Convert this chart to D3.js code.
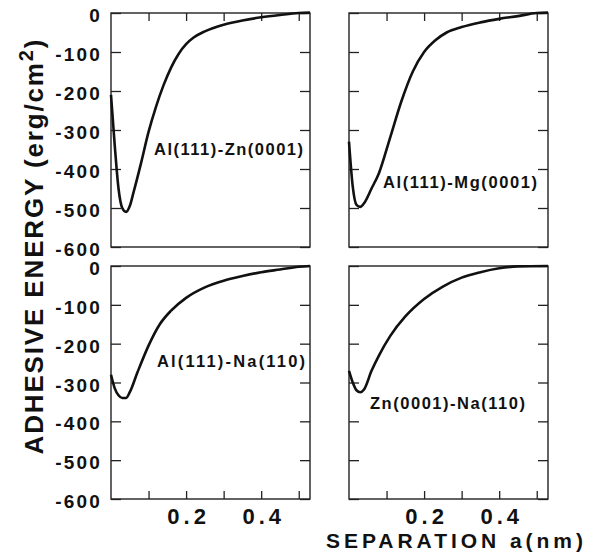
<!DOCTYPE html>
<html>
<head>
<meta charset="utf-8">
<script src="https://cdn.jsdelivr.net/npm/d3@7"></script>
<style>
  body { margin: 0; background: #fff; }
  text { font-family: "Liberation Sans", Arial, sans-serif; font-weight: bold; fill: #111; }
</style>
</head>
<body>
<div id="chart"></div>
<script>
// ============ data (a in nm, E in erg/cm2) ============
var alZnA = [0, 0.01, 0.02, 0.03, 0.04, 0.05, 0.06, 0.08, 0.10, 0.12, 0.14, 0.16, 0.18, 0.20, 0.22, 0.25, 0.30, 0.35, 0.40, 0.45, 0.50, 0.53];
var alZnE = [-210, -340, -450, -500, -510, -495, -460, -385, -305, -240, -185, -140, -105, -80, -63, -47, -30, -19, -11, -5, 0, 1];

var alMgA = [0, 0.01, 0.02, 0.03, 0.04, 0.06, 0.08, 0.11, 0.14, 0.17, 0.20, 0.23, 0.26, 0.30, 0.35, 0.40, 0.45, 0.50, 0.53];
var alMgE = [-330, -445, -492, -497, -488, -450, -410, -318, -225, -150, -100, -70, -50, -36, -24, -15, -8, 0, 1];

var alNaA = [0, 0.01, 0.02, 0.03, 0.04, 0.05, 0.07, 0.10, 0.13, 0.16, 0.20, 0.25, 0.30, 0.35, 0.40, 0.45, 0.50, 0.53];
var alNaE = [-280, -315, -333, -340, -340, -325, -275, -205, -150, -115, -82, -55, -38, -26, -16, -9, -2, 0];

var znNaA = [0, 0.01, 0.02, 0.03, 0.04, 0.06, 0.08, 0.11, 0.15, 0.20, 0.25, 0.30, 0.35, 0.40, 0.45, 0.53];
var znNaE = [-270, -300, -320, -325, -318, -270, -230, -180, -130, -85, -53, -30, -16, -6, -1, 0];

var yTicks = [0, -100, -200, -300, -400, -500, -600];
var xTicks = [0.1, 0.2, 0.3, 0.4, 0.5];
var xTickLabels = ["0.2", "0.4"];

var panelNames = ["Al(111)-Zn(0001)", "Al(111)-Mg(0001)", "Al(111)-Na(110)", "Zn(0001)-Na(110)"];

//============ set up chart =====================
var svgWidth = 597;
var svgHeight = 556;
var panelW = 199;
var colX = [111, 349];
var rowY = [13, 266];
var rowH = [234, 233];

var svg = d3.select("#chart")
  .append("svg")
  .attr("width", svgWidth)
  .attr("height", svgHeight);

var panels = [
  { a: alZnA, e: alZnE, col: 0, row: 0, label: [154, 155], labelLen: 149 },
  { a: alMgA, e: alMgE, col: 1, row: 0, label: [383, 188], labelLen: 154 },
  { a: alNaA, e: alNaE, col: 0, row: 1, label: [157, 367], labelLen: 148 },
  { a: znNaA, e: znNaE, col: 1, row: 1, label: [370, 409], labelLen: 155 }
];

panels.forEach(function(p, i) {
  var x0 = colX[p.col], y0 = rowY[p.row], h = rowH[p.row];

  var xScale = d3.scaleLinear().domain([0, 0.53]).range([x0, x0 + panelW]);
  var yScale = d3.scaleLinear().domain([0, -600]).range([y0, y0 + h]);

  var g = svg.append("g");

  // left axis (ticks inward, labels only on left column)
  var leftAxis = d3.axisLeft(yScale)
    .tickValues(yTicks)
    .tickSizeInner(-10)
    .tickSizeOuter(0)
    .tickPadding(9)
    .tickFormat(p.col === 0 ? d3.format("d") : "");
  var la = g.append("g")
    .attr("transform", `translate(${x0},0)`)
    .call(leftAxis);
  la.selectAll("text")
    .attr("font-size", 19)
    .attr("letter-spacing", 2.2)
    .attr("dy", "0.45em")
    .text(function(d) { return p.col === 0 ? String(d) : ""; });

  var rightAxis = d3.axisRight(yScale)
    .tickValues(yTicks)
    .tickSizeInner(-10)
    .tickSizeOuter(0)
    .tickFormat("");
  g.append("g")
    .attr("transform", `translate(${x0 + panelW},0)`)
    .call(rightAxis);

  // x ticks: top row on top edge, bottom row on bottom edge with labels
  if (p.row === 0) {
    var topAxis = d3.axisTop(xScale)
      .tickValues(xTicks)
      .tickSizeInner(-8)
      .tickSizeOuter(0)
      .tickFormat("");
    g.append("g")
      .attr("transform", `translate(0,${y0})`)
      .call(topAxis);
  } else {
    var bottomAxis = d3.axisBottom(xScale)
      .tickValues(xTicks)
      .tickSizeInner(-8)
      .tickSizeOuter(0)
      .tickPadding(9)
      .tickFormat(function(d) {
        var s = d3.format(".1f")(d);
        return xTickLabels.indexOf(s) >= 0 ? s : "";
      });
    var ba = g.append("g")
      .attr("transform", `translate(0,${y0 + h})`)
      .call(bottomAxis);
    ba.selectAll("text")
      .attr("font-size", 22)
      .attr("letter-spacing", 4)
      .attr("dx", 2);
  }

  g.selectAll(".domain").remove();
  g.selectAll(".tick line").attr("stroke", "#222").attr("stroke-width", 1.3);
  g.selectAll(".tick text").attr("fill", "#111").style("font-family", "'Liberation Sans', Arial, sans-serif");

  // frame
  g.append("rect")
    .attr("x", x0)
    .attr("y", y0)
    .attr("width", panelW)
    .attr("height", h)
    .attr("fill", "none")
    .attr("stroke", "#222")
    .attr("stroke-width", 1.4);

  // curve
  var line = d3.line()
    .x(function(d, k) { return xScale(p.a[k]); })
    .y(function(d) { return yScale(d); })
    .curve(d3.curveMonotoneX);

  g.append("path")
    .datum(p.e)
    .attr("d", line)
    .attr("fill", "none")
    .attr("stroke", "#111")
    .attr("stroke-width", 2.6)
    .attr("stroke-linejoin", "round");

  // curve label
  g.append("text")
    .attr("x", p.label[0])
    .attr("y", p.label[1])
    .attr("font-size", 16.5)
    .attr("textLength", p.labelLen)
    .attr("lengthAdjust", "spacing")
    .text(panelNames[i]);
});

// ============ axis titles ============
var yTitle = svg.append("text")
  .attr("transform", "translate(43,247) rotate(-90)")
  .attr("text-anchor", "middle")
  .attr("font-size", 26)
  .attr("textLength", 415)
  .attr("lengthAdjust", "spacing");
yTitle.append("tspan").text("ADHESIVE ENERGY (erg/cm");
yTitle.append("tspan").attr("dy", -10).attr("font-size", 20).text("2");
yTitle.append("tspan").attr("dy", 10).text(")");

svg.append("text")
  .attr("x", 326)
  .attr("y", 548)
  .attr("font-size", 21)
  .attr("textLength", 257)
  .attr("lengthAdjust", "spacing")
  .text("SEPARATION a(nm)");
</script>
</body>
</html>
